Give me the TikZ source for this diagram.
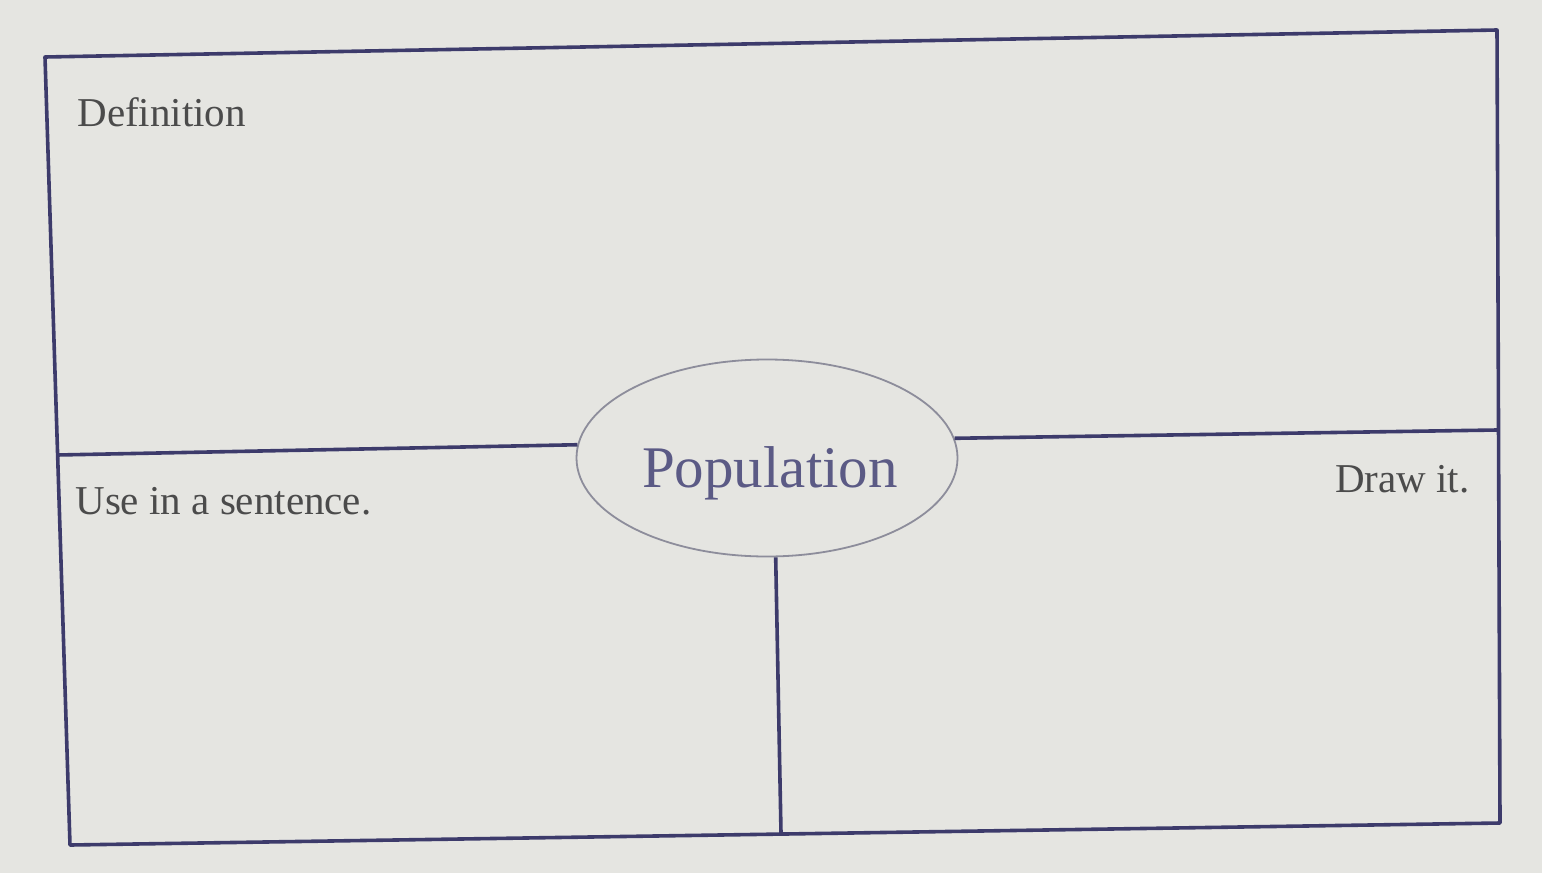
\documentclass[tikz,border=0pt]{standalone}
\usepackage{fontspec}
\setmainfont{Liberation Serif}
\usepackage{tikz}
\usetikzlibrary{shapes.geometric}

\definecolor{paper}{HTML}{E5E5E1}
\definecolor{frame}{HTML}{3D3B6B}
\definecolor{ring}{HTML}{8D8D9B}
\definecolor{ink}{HTML}{4B4B4B}
\definecolor{wordink}{HTML}{5B5A85}

\begin{document}
\begin{tikzpicture}
  [x=0.5pt,y=-0.5pt,
   frameline/.style={draw=frame,line width=1.8pt,line join=round},
   caption/.style={text=ink,font=\fontsize{20.5}{24}\selectfont,inner sep=0pt},
   wordring/.style={ellipse,draw=ring,line width=0.9pt,minimum width=190.5pt,minimum height=98.5pt,inner sep=0pt}]
  \useasboundingbox[fill=paper] (0,0) rectangle (1542,873);
  % outer box
  \coordinate (tl) at (45,57);
  \coordinate (tr) at (1497,30);
  \coordinate (br) at (1500,823);
  \coordinate (bl) at (70,845);
  \draw[frameline] (tl) -- (tr) -- (br) -- (bl) -- cycle;
  % centre word
  \node[wordring] (concept) at (767,458) {};
  \node[anchor=base,inner sep=0pt,text=wordink,font=\fontsize{29.5}{34}\selectfont] (conceptlabel) at (770,487) {Population};
  % dividing lines
  \coordinate (midl) at (57,455);
  \coordinate (midr) at (1497,430);
  \coordinate (midb) at (781,833);
  \draw[frameline] (midl) -- (concept.176);
  \draw[frameline] (concept.6) -- (midr);
  \draw[frameline] (concept.275) -- (midb);
  % captions
  \node[caption,anchor=base west] (definition) at (77,126) {Definition};
  \node[caption,anchor=base west] (sentence) at (75,514) {Use in a sentence.};
  \node[caption,anchor=base east] (drawit) at (1470,492) {Draw it.};
\end{tikzpicture}
\end{document}
